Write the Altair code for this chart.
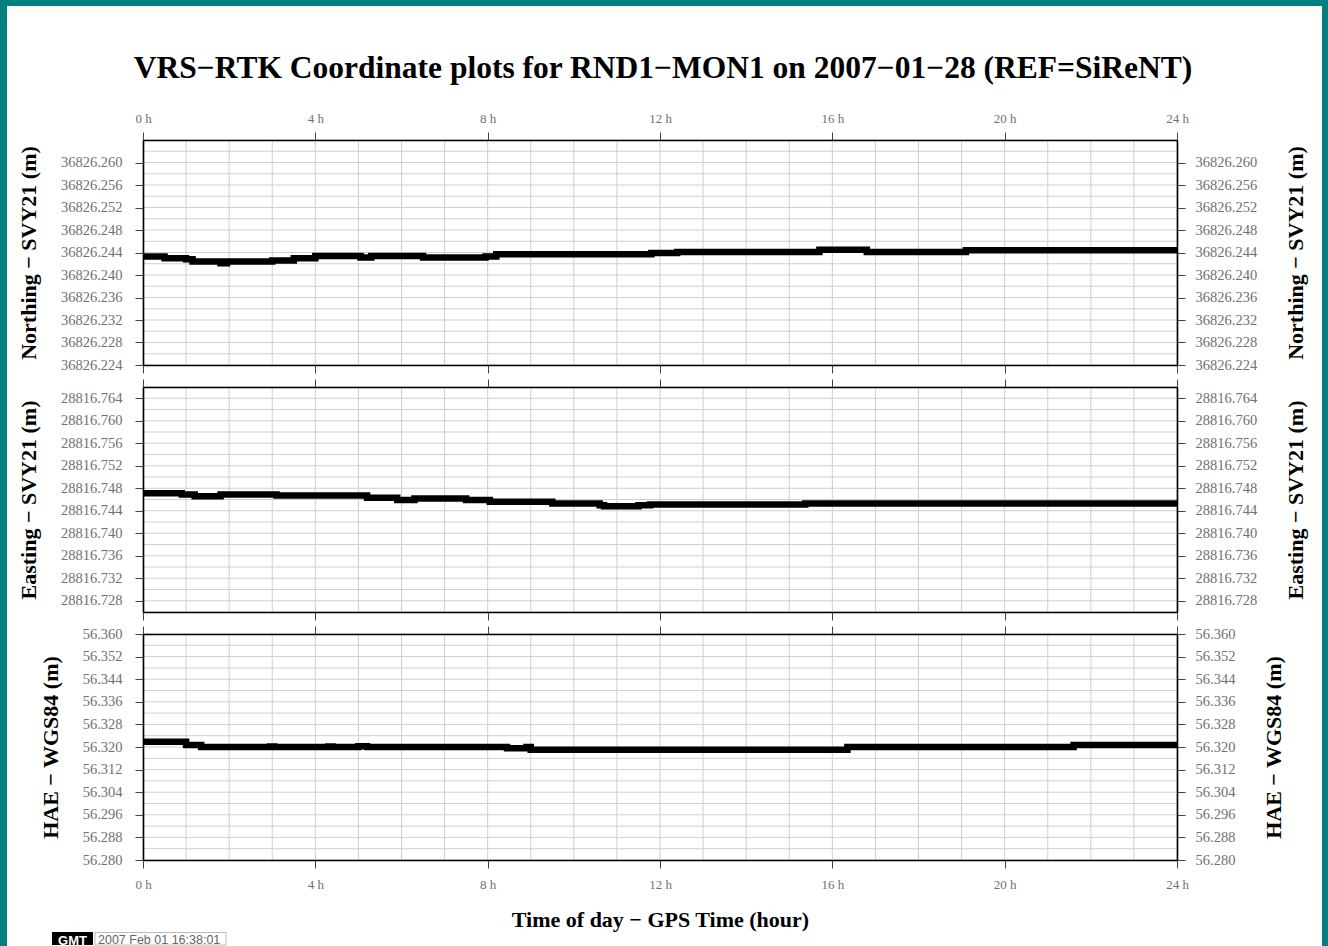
import altair as alt
import pandas as pd

# ---------------- texts ----------------
TITLE = "VRS\u2212RTK Coordinate plots for RND1\u2212MON1 on 2007\u221201\u221228 (REF=SiReNT)"
X_TITLE = "Time of day \u2212 GPS Time (hour)"
Y_TITLES = ["Northing \u2212 SVY21 (m)", "Easting \u2212 SVY21 (m)", "HAE \u2212 WGS84 (m)"]
STAMP_LOGO = "GMT"
STAMP = "2007 Feb 01 16:38:01"

# ---------------- x axis ----------------
HOUR_TICKS = [0, 4, 8, 12, 16, 20, 24]
HOUR_GRID = [0, 1, 2, 3, 4, 5, 6, 7, 8, 9, 10, 11, 12, 13, 14, 15, 16, 17, 18, 19, 20, 21, 22, 23, 24]

# ---------------- Northing (step series) ----------------
N_HOURS = [0, 0.5, 1.0, 1.15, 1.8, 1.95, 3.0, 3.5, 4.0, 5.05, 5.3, 6.5, 7.95, 8.2,
           11.8, 12.4, 15.7, 16.8, 19.1, 24]
N_VALUES = [36826.2433, 36826.2430, 36826.2428, 36826.2424, 36826.2421, 36826.2424,
            36826.2426, 36826.2430, 36826.2434, 36826.2431, 36826.2434, 36826.2431,
            36826.2433, 36826.2437, 36826.2439, 36826.2441, 36826.2445, 36826.2441,
            36826.2444, 36826.2444]
N_TICKS = [36826.224, 36826.228, 36826.232, 36826.236, 36826.240, 36826.244,
           36826.248, 36826.252, 36826.256, 36826.260]
N_DOMAIN = [36826.224, 36826.264]

# ---------------- Easting ----------------
E_HOURS = [0, 0.9, 1.2, 1.8, 3.1, 5.2, 5.9, 6.3, 7.5, 8.05, 9.5, 10.6, 10.7, 11.5,
           11.77, 15.37, 24]
E_VALUES = [28816.7471, 28816.7469, 28816.7466, 28816.7469, 28816.7467, 28816.7463,
            28816.7459, 28816.7462, 28816.7459, 28816.7456, 28816.7453, 28816.7450,
            28816.7448, 28816.7450, 28816.7451, 28816.7453, 28816.7453]
E_TICKS = [28816.728, 28816.732, 28816.736, 28816.740, 28816.744, 28816.748,
           28816.752, 28816.756, 28816.760, 28816.764]
E_DOMAIN = [28816.726, 28816.766]

# ---------------- HAE ----------------
H_HOURS = [0, 1.0, 1.35, 2.95, 3.05, 4.3, 4.4, 5.0, 5.2, 8.45, 8.9, 9.0, 16.35, 21.6, 24]
H_VALUES = [56.3219, 56.3207, 56.3200, 56.3202, 56.3200, 56.3202, 56.3200, 56.3203,
            56.3200, 56.3196, 56.3200, 56.3190, 56.3200, 56.3207, 56.3207]
H_TICKS = [56.280, 56.288, 56.296, 56.304, 56.312, 56.320, 56.328, 56.336, 56.344,
           56.352, 56.360]
H_DOMAIN = [56.280, 56.360]

# grid lines at half tick spacing
N_GRID = [round(N_DOMAIN[0] + 0.002 * i, 3) for i in range(21)]
E_GRID = [round(E_DOMAIN[0] + 0.002 * i, 3) for i in range(21)]
H_GRID = [round(H_DOMAIN[0] + 0.004 * i, 3) for i in range(21)]

SERIF = "Liberation Serif"
TEAL = "#008080"
GRID_COLOR = "#cfcfcf"
LABEL_COLOR = "#707070"

PLOT_W = 1034
HEIGHTS = [225, 225, 226]


def common_axis():
    return dict(domainColor="black", domainWidth=1.6, tickColor="#444444", tickWidth=1,
                tickSize=8, labelFont=SERIF, labelColor=LABEL_COLOR, labelOverlap=False,
                labelFlush=False, grid=False, zindex=1, titleFont=SERIF,
                titleFontWeight="bold", titleColor="black", titleFontSize=22)


def panel(i, hours, values, ticks, grid, domain, ytitle):
    first = i == 0
    last = i == 2
    xscale = alt.Scale(domain=[0, 24], nice=False, zero=False)
    yscale = alt.Scale(domain=domain, nice=False, zero=False)

    vrule = alt.Chart(pd.DataFrame({"h": HOUR_GRID})).mark_rule(
        color=GRID_COLOR, strokeWidth=1
    ).encode(
        x=alt.X("h:Q", scale=xscale,
                axis=alt.Axis(orient="top", values=HOUR_TICKS, labels=first,
                              labelExpr="datum.value + ' h'", labelFontSize=13,
                              labelPadding=7, title=None, **common_axis()))
    )
    hrule = alt.Chart(pd.DataFrame({"v": grid})).mark_rule(
        color=GRID_COLOR, strokeWidth=1
    ).encode(
        y=alt.Y("v:Q", scale=yscale,
                axis=alt.Axis(orient="right", values=ticks, format=".3f",
                              labelFontSize=14.5, labelPadding=10, title=ytitle,
                              titleAngle=270, titleBaseline="top", titlePadding=29,
                              **common_axis()))
    )
    xaxis_kw = dict(orient="bottom", values=HOUR_TICKS, labels=last,
                    labelExpr="datum.value + ' h'", labelFontSize=13, labelPadding=10,
                    titlePadding=18, **common_axis())
    if last:
        xaxis_kw["title"] = X_TITLE
    else:
        xaxis_kw["title"] = None
    line = alt.Chart(pd.DataFrame({"h": hours, "v": values})).mark_line(
        interpolate="step-after", color="black", strokeWidth=6.5, strokeCap="butt",
        strokeJoin="miter"
    ).encode(
        x=alt.X("h:Q", scale=xscale, axis=alt.Axis(**xaxis_kw)),
        y=alt.Y("v:Q", scale=yscale,
                axis=alt.Axis(orient="left", values=ticks, format=".3f",
                              labelFontSize=14.5, labelPadding=13, title=ytitle,
                              titlePadding=20, **common_axis())),
    )
    layers = [vrule, hrule, line]

    one = pd.DataFrame({"t": [""]})
    if first:
        # teal frame of the page
        for x0, x1, y0, y1 in [(-143, -136, -140, 806), (-143, 1185, -140, -134),
                               (1179, 1185, -140, 806)]:
            layers.append(alt.Chart(one).mark_rect(color=TEAL).encode(
                x=alt.value(x0), x2=alt.value(x1), y=alt.value(y0), y2=alt.value(y1)))
        layers.append(alt.Chart(pd.DataFrame({"t": [TITLE]})).mark_text(
            font=SERIF, fontSize=31.5, fontWeight="bold", align="center",
            baseline="alphabetic", color="black"
        ).encode(text="t:N", x=alt.value(PLOT_W / 2 + 3), y=alt.value(-62)))
    if last:
        layers.append(alt.Chart(one).mark_rect(color="black").encode(
            x=alt.value(-91), x2=alt.value(-50), y=alt.value(298), y2=alt.value(311)))
        layers.append(alt.Chart(pd.DataFrame({"t": [STAMP_LOGO]})).mark_text(
            font="Liberation Sans", fontSize=13, fontWeight="bold", align="center",
            baseline="alphabetic", color="white"
        ).encode(text="t:N", x=alt.value(-70.5), y=alt.value(311)))
        layers.append(alt.Chart(one).mark_rect(fill="white", stroke="#bbbbbb",
                                               strokeWidth=1).encode(
            x=alt.value(-48), x2=alt.value(83), y=alt.value(298.5), y2=alt.value(311)))
        layers.append(alt.Chart(pd.DataFrame({"t": [STAMP]})).mark_text(
            font="Liberation Sans", fontSize=12.5, align="left",
            baseline="alphabetic", color="#666666"
        ).encode(text="t:N", x=alt.value(-45), y=alt.value(310)))

    return alt.layer(*layers).resolve_axis(x="independent", y="independent").properties(
        width=PLOT_W, height=HEIGHTS[i])


p1 = panel(0, N_HOURS, N_VALUES, N_TICKS, N_GRID, N_DOMAIN, Y_TITLES[0])
p2 = panel(1, E_HOURS, E_VALUES, E_TICKS, E_GRID, E_DOMAIN, Y_TITLES[1])
p3 = panel(2, H_HOURS, H_VALUES, H_TICKS, H_GRID, H_DOMAIN, Y_TITLES[2])

chart = alt.vconcat(p1, p2, p3, spacing=22, bounds="flush").properties(
    padding=0, background="white"
).configure_view(strokeWidth=0)

chart.save("out.html", embed_options={"renderer": "svg", "actions": False})
